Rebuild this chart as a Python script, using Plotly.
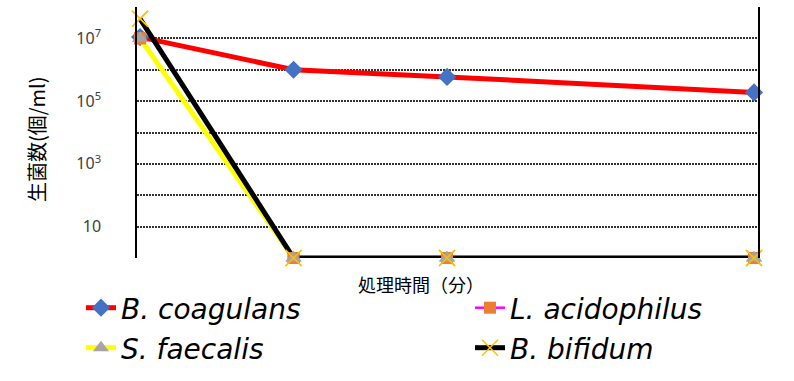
import plotly.graph_objects as go

# ---- data ----
time_points = [0, 1, 2, 4]
b_coagulans = [1.1e7, 1.0e6, 5.9e5, 1.9e5]
l_acidophilus = [1.0e7, 1, 1, 1]
s_faecalis = [1.0e7, 1, 1, 1]
b_bifidum = [4.2e7, 1, 1, 1]

series_names = ["B. coagulans", "L. acidophilus", "S. faecalis", "B. bifidum"]

y_tick_vals = [1, 10, 1e2, 1e3, 1e4, 1e5, 1e6, 1e7, 1e8]
y_tick_text = ["", "10", "", "10<sup>3</sup>", "", "10<sup>5</sup>", "", "10<sup>7</sup>", ""]

x_title = "処理時間（分）"
y_title = "生菌数(個/ml)"

# ---- styles ----
W, H = 794, 381
ML, MR, MT, MB = 137, 36, 7, 123
PW, PH = W - ML - MR, H - MT - MB

def px_x(p):
    return (p - ML) / PW

def px_y(p):
    return (H - MB - p) / PH

def cx(p):
    return p / W

def cy(p):
    return 1 - p / H

jp_font = "Noto Sans CJK JP, Noto Sans, sans-serif"
leg_font = dict(family="DejaVu Sans, sans-serif", size=28, color="#000000", style="italic")

# legend positions (container pixels): legend left x, row centre y
legend_pos = {
    "legend": (81, 308),
    "legend2": (470, 308),
    "legend3": (81, 348),
    "legend4": (470, 348),
}

fig = go.Figure()

styles = [
    dict(name=series_names[0], y=b_coagulans, line=dict(color="#FF0000", width=5),
         marker=dict(symbol="diamond", size=14, color="#4472C4"), legend="legend"),
    dict(name=series_names[1], y=l_acidophilus, line=dict(color="#FF00FF", width=2.5),
         marker=dict(symbol="square", size=12, color="#ED7D31"), legend="legend2"),
    dict(name=series_names[2], y=s_faecalis, line=dict(color="#FFFF00", width=5),
         marker=dict(symbol="triangle-up", size=14, color="#A5A5A5"), legend="legend3"),
    dict(name=series_names[3], y=b_bifidum, line=dict(color="#000000", width=5),
         marker=dict(symbol="x-thin-open", size=16, color="#FFC000", line=dict(color="#FFC000", width=1.5)),
         legend="legend4"),
]

for s in styles:
    fig.add_trace(go.Scatter(
        x=time_points, y=s["y"], name=s["name"], mode="lines+markers",
        line=s["line"], marker=s["marker"], cliponaxis=False, legend=s["legend"],
    ))

# markers on top of all lines (as in the original chart)
for s in styles[1:]:
    fig.add_trace(go.Scatter(
        x=time_points, y=s["y"], mode="markers", marker=s["marker"],
        cliponaxis=False, showlegend=False, hoverinfo="skip",
    ))

legends = {}
for key, (lx, ly) in legend_pos.items():
    legends[key] = dict(
        orientation="h", xref="container", yref="container",
        x=cx(lx), y=cy(ly), xanchor="left", yanchor="middle",
        font=leg_font, bgcolor="rgba(0,0,0,0)", itemsizing="trace",
    )

fig.update_layout(
    width=W, height=H,
    margin=dict(l=ML, r=MR, t=MT, b=MB, pad=0, autoexpand=False),
    paper_bgcolor="white", plot_bgcolor="white",
    showlegend=True,
    **legends,
    xaxis=dict(range=[-0.02, 4.026], showgrid=False, zeroline=False, showline=False,
               showticklabels=False, ticks="", automargin=False),
    yaxis=dict(type="log", range=[0, 8], tickvals=y_tick_vals, ticktext=y_tick_text,
               showgrid=True, gridcolor="#333333", griddash="2px,1px", gridwidth=1.5,
               showline=True, linecolor="#000000", linewidth=1.5, mirror=True,
               zeroline=False, ticks="", ticklabelstandoff=31, automargin=False,
               tickfont=dict(family="Noto Sans, sans-serif", size=16, color="#404040")),
    annotations=[
        dict(text=x_title, x=px_x(421), y=px_y(284), xref="paper", yref="paper",
             showarrow=False, xanchor="center", yanchor="middle",
             font=dict(family=jp_font, size=18, color="#000000")),
        dict(text=y_title, x=px_x(36), y=px_y(139), xref="paper", yref="paper",
             showarrow=False, xanchor="center", yanchor="middle", textangle=-90,
             font=dict(family=jp_font, size=20, color="#000000")),
    ],
)

fig.write_html("out.html", config={"displayModeBar": False},
               post_script="document.body.style.margin='0';document.body.style.padding='0';")
